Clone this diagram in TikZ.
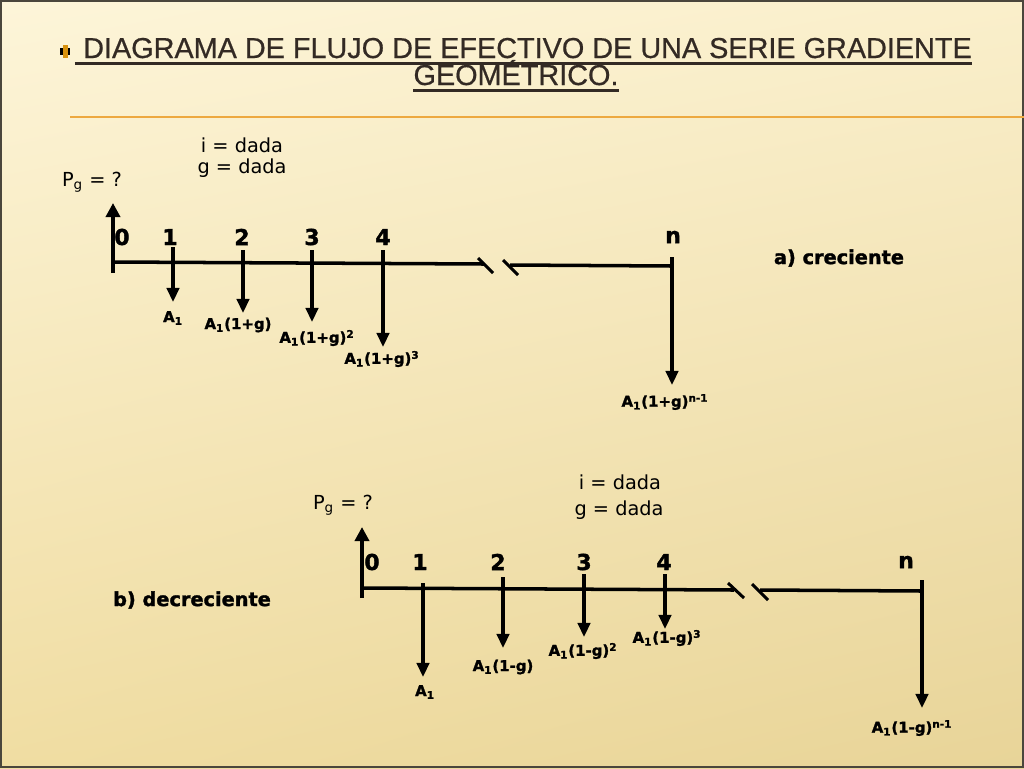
\documentclass[tikz,border=0pt]{standalone}
\usepackage{fontspec}
\setmainfont{DejaVu Sans}[BoldFeatures={FakeBold=1.5}]
\newfontfamily\titlefont{Liberation Sans}[FakeBold=0.6]
\usetikzlibrary{arrows.meta,shadings}

\definecolor{bgul}{HTML}{FDF5D9}
\definecolor{bgur}{HTML}{FAEFCB}
\definecolor{bgll}{HTML}{F0DDA2}
\definecolor{bglr}{HTML}{E8D498}
\definecolor{framecol}{HTML}{4A463C}
\definecolor{titlecol}{HTML}{332A24}
\definecolor{rulecol}{HTML}{EDA940}
\definecolor{bulletcol}{HTML}{D8920F}

\tikzset{
  flow/.style={line width=2.1pt, -{Triangle[length=8pt,width=7pt]}},
  pgflow/.style={line width=2.8pt, -{Triangle[length=8pt,width=8pt]}},
  axisline/.style={line width=2pt},
  cut/.style={line width=1.7pt},
  period/.style={font=\bfseries\fontsize{12.5}{14}\selectfont, inner sep=0pt},
  cash/.style={font=\bfseries\fontsize{8.5}{10}\selectfont, inner sep=0pt},
  given/.style={font=\fontsize{11}{13}\selectfont, inner sep=0pt},
  case/.style={font=\bfseries\fontsize{11}{13}\selectfont, inner sep=0pt},
  heading/.style={font=\titlefont\fontsize{16.4}{18}\selectfont, text=titlecol, inner sep=0pt, anchor=base}
}

\begin{document}
\begin{tikzpicture}[x=0.02cm, y=-0.02cm]
  \useasboundingbox (0,0) rectangle (1024,768);
  % slide background
  \shade[upper left=bgul, upper right=bgur, lower left=bgll, lower right=bglr] (0,0) rectangle (1024,768);
  \draw[framecol, line width=1.2pt] (1,1) rectangle (1023,767);

  % title
  \fill[black] (60,48) rectangle (70,55);
  \fill[bulletcol] (62.5,45) rectangle (67.5,58);
  \node[heading] (head1) at (527.5,58) {DIAGRAMA DE FLUJO DE EFECTIVO DE UNA SERIE GRADIENTE};
  \node[heading] (head2) at (516,85) {GEOMÉTRICO.};
  \draw[titlecol, line width=1.3pt] ([xshift=-4.5pt,yshift=-3.2pt]head1.base west) -- ([yshift=-3.2pt]head1.base east);
  \draw[titlecol, line width=1.3pt] ([yshift=-3.2pt]head2.base west) -- ([yshift=-3.2pt]head2.base east);
  \draw[rulecol, line width=1.3pt] (70,117) -- (1024,117);

  % a) creciente
  \node[given] (pa) at (92,182) {P\textsubscript{g} = ?};
  \node[given] (ia) at (242,145) {i = dada};
  \node[given] (ga) at (242,168) {g = dada};
  \node[case] (casea) at (839,258) {a) creciente};

  \coordinate (a0) at (113,273);
  \coordinate (ea0) at (113,203);
  \draw[pgflow] (a0) -- (ea0);
  \draw[axisline] (113,262) -- (484,264);
  \draw[axisline] (510,265) -- (672,266);
  \draw[cut] (478,258) -- (493,273);
  \draw[cut] (503,260) -- (518,275);

  \node[period] (na0) at (122,237) {0};
  \node[period] (na1) at (170,237) {1};
  \node[period] (na2) at (242,237) {2};
  \node[period] (na3) at (312,237) {3};
  \node[period] (na4) at (383,237) {4};
  \node[period] (nan) at (673,237) {n};

  \coordinate (a1) at (173,247);
  \coordinate (a2) at (243,250);
  \coordinate (a3) at (312,250);
  \coordinate (a4) at (383,250);
  \coordinate (an) at (672,257);
  \coordinate (ea1) at (173,302);
  \coordinate (ea2) at (243,313);
  \coordinate (ea3) at (312,322);
  \coordinate (ea4) at (383,347);
  \coordinate (ean) at (672,385);
  \draw[flow] (a1) -- (ea1);
  \draw[flow] (a2) -- (ea2);
  \draw[flow] (a3) -- (ea3);
  \draw[flow] (a4) -- (ea4);
  \draw[flow] (an) -- (ean);

  \node[cash] (ca1) at (173,318) {A\textsubscript{1}};
  \node[cash] (ca2) at (238,325) {A\textsubscript{1}(1+g)};
  \node[cash] (ca3) at (317,338) {A\textsubscript{1}(1+g)\textsuperscript{2}};
  \node[cash] (ca4) at (382,359) {A\textsubscript{1}(1+g)\textsuperscript{3}};
  \node[cash] (can) at (665,402) {A\textsubscript{1}(1+g)\textsuperscript{n-1}};

  % b) decreciente
  \node[given] (pb) at (343,505) {P\textsubscript{g} = ?};
  \node[given] (ib) at (620,482) {i = dada};
  \node[given] (gb) at (619,510) {g = dada};
  \node[case] (caseb) at (192,600) {b) decreciente};

  \coordinate (b0) at (362,598);
  \coordinate (eb0) at (362,527);
  \draw[pgflow] (b0) -- (eb0);
  \draw[axisline] (362,588) -- (734,590);
  \draw[axisline] (760,590) -- (922,591);
  \draw[cut] (728,583) -- (744,598);
  \draw[cut] (752,584) -- (768,600);

  \node[period] (nb0) at (372,562) {0};
  \node[period] (nb1) at (420,562) {1};
  \node[period] (nb2) at (498,562) {2};
  \node[period] (nb3) at (584,562) {3};
  \node[period] (nb4) at (664,562) {4};
  \node[period] (nbn) at (906,562) {n};

  \coordinate (b1) at (423,583);
  \coordinate (b2) at (503,577);
  \coordinate (b3) at (584,574);
  \coordinate (b4) at (665,574);
  \coordinate (bn) at (922,580);
  \coordinate (eb1) at (423,677);
  \coordinate (eb2) at (503,648);
  \coordinate (eb3) at (584,637);
  \coordinate (eb4) at (665,629);
  \coordinate (ebn) at (922,708);
  \draw[flow] (b1) -- (eb1);
  \draw[flow] (b2) -- (eb2);
  \draw[flow] (b3) -- (eb3);
  \draw[flow] (b4) -- (eb4);
  \draw[flow] (bn) -- (ebn);

  \node[cash] (cb1) at (425,692) {A\textsubscript{1}};
  \node[cash] (cb2) at (503,667) {A\textsubscript{1}(1-g)};
  \node[cash] (cb3) at (583,651) {A\textsubscript{1}(1-g)\textsuperscript{2}};
  \node[cash] (cb4) at (667,638) {A\textsubscript{1}(1-g)\textsuperscript{3}};
  \node[cash] (cbn) at (912,728) {A\textsubscript{1}(1-g)\textsuperscript{n-1}};
\end{tikzpicture}
\end{document}
